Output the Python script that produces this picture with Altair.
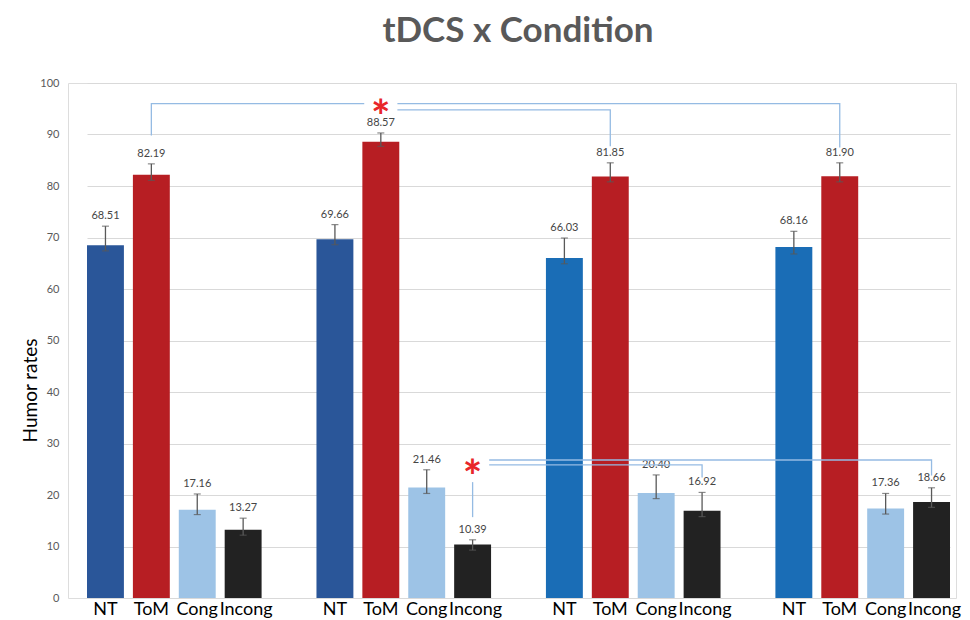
import altair as alt
import pandas as pd

# ---------------- data ----------------
chart_title = "tDCS x Condition"
groups = ["Group 1", "Group 2", "Group 3", "Group 4"]
conditions = ["NT", "ToM", "Cong", "Incong"]

means = {
    "NT":     [68.51, 69.66, 66.03, 68.16],
    "ToM":    [82.19, 88.57, 81.85, 81.90],
    "Cong":   [17.16, 21.46, 20.40, 17.36],
    "Incong": [13.27, 10.39, 16.92, 18.66],
}
err_high = {
    "NT":     [72.2, 72.5, 69.9, 71.2],
    "ToM":    [84.3, 90.3, 84.5, 84.5],
    "Cong":   [20.2, 24.9, 23.9, 20.3],
    "Incong": [15.5, 11.3, 20.5, 21.4],
}
err_low = {
    "NT":     [67.4, 68.6, 64.9, 66.8],
    "ToM":    [81.1, 87.7, 80.8, 80.8],
    "Cong":   [16.2, 20.3, 19.3, 16.3],
    "Incong": [12.2, 9.3, 15.8, 17.6],
}
# NT bars of the first two groups are a darker blue than the last two
nt_shade = ["NT dark", "NT dark", "NT bright", "NT bright"]

# significance brackets (path id, group, condition, value)
br_path = ["A", "A", "A", "A", "B", "B", "B",
           "C", "C", "C", "D", "D", "D", "E", "E"]
br_group = ["Group 1", "Group 1", "Group 4", "Group 4",
            "Group 2", "Group 3", "Group 3",
            "Group 2", "Group 4", "Group 4",
            "Group 2", "Group 3", "Group 3",
            "Group 2", "Group 2"]
br_cond = ["ToM", "ToM", "ToM", "ToM", "ToM", "ToM", "ToM",
           "Incong", "Incong", "Incong", "Incong", "Incong", "Incong",
           "Incong", "Incong"]
br_value = [89.8, 96.0, 96.0, 87.5, 94.8, 94.8, 87.7,
            26.8, 26.8, 23.8, 25.85, 25.85, 23.4, 22.5, 15.7]

star_group = ["Group 2", "Group 2"]
star_cond = ["ToM", "Incong"]
star_value = [95.4, 25.5]

# ---------------- tables ----------------
rows = []
for gi, g in enumerate(groups):
    for c in conditions:
        rows.append({
            "group": g, "cond": c,
            "mean": means[c][gi], "lo": err_low[c][gi], "hi": err_high[c][gi],
            "key": nt_shade[gi] if c == "NT" else c,
            "label": f"{means[c][gi]:.2f}",
        })
df = pd.DataFrame(rows)

br = pd.DataFrame({"path": br_path, "group": br_group, "cond": br_cond,
                   "value": br_value, "step": list(range(len(br_path)))})
stars = pd.DataFrame({"group": star_group, "cond": star_cond, "value": star_value})
title_df = pd.DataFrame({"t": [chart_title]})

# ---------------- scales ----------------
W, H = 888, 515
FONT = "Lato"

x_enc = alt.X("group:N", sort=groups, axis=None,
              scale=alt.Scale(range=[19, 882], paddingInner=0.2391, paddingOuter=0))
xo_enc = alt.XOffset("cond:N", sort=conditions,
                     scale=alt.Scale(paddingInner=0.1957, paddingOuter=0))
y_scale = alt.Scale(domain=[0, 100], nice=False, zero=True)

bars = alt.Chart(df).mark_bar(width={"band": 1}).encode(
    x=x_enc, xOffset=xo_enc,
    y=alt.Y("mean:Q", scale=y_scale, title="Humor rates",
            axis=alt.Axis(values=list(range(0, 101, 10)), grid=True, gridColor="#D9D9D9",
                          gridWidth=1, domain=False, ticks=False, labelPadding=9,
                          labelFont=FONT, labelFontSize=11, labelColor="#595959",
                          titleFont=FONT, titleFontSize=19, titleFontWeight="normal",
                          titleColor="#000000", titleX=-38, titleY=307,
                          titleAlign="center", titleBaseline="middle")),
    color=alt.Color("key:N", legend=None,
                    scale=alt.Scale(domain=["NT dark", "NT bright", "ToM", "Cong", "Incong"],
                                    range=["#2A5699", "#1A6DB6", "#B71E23", "#9DC3E6", "#222222"])),
)

err = alt.Chart(df).mark_rule(color="#595959", strokeWidth=1.3).encode(
    x=x_enc, xOffset=xo_enc, y=alt.Y("lo:Q", scale=y_scale), y2="hi:Q")

caps_hi = alt.Chart(df).mark_tick(color="#595959", size=7, thickness=1.2,
                                  orient="horizontal").encode(
    x=x_enc, xOffset=xo_enc, y=alt.Y("hi:Q", scale=y_scale))
caps_lo = alt.Chart(df).mark_tick(color="#595959", size=7, thickness=1.2,
                                  orient="horizontal").encode(
    x=x_enc, xOffset=xo_enc, y=alt.Y("lo:Q", scale=y_scale))

vals = alt.Chart(df).mark_text(font=FONT, fontSize=11, color="#454545",
                               baseline="middle", dy=-10).encode(
    x=x_enc, xOffset=xo_enc, y=alt.Y("hi:Q", scale=y_scale), text="label:N")


def cat_labels(filter_expr, dx):
    return alt.Chart(df).transform_filter(filter_expr).mark_text(
        font=FONT, fontSize=18, color="#000000", baseline="middle", dy=12, dx=dx
    ).encode(x=x_enc, xOffset=xo_enc, y=alt.value(H), text="cond:N")


xlabels_a = cat_labels("datum.cond == 'NT' || datum.cond == 'ToM'", 0)
xlabels_b = cat_labels("datum.cond == 'Cong'", 0)
xlabels_c = cat_labels("datum.cond == 'Incong'", 3)

lines = alt.Chart(br).mark_line(color="#95BBE3", strokeWidth=1.3).encode(
    x=x_enc, xOffset=xo_enc, y=alt.Y("value:Q", scale=y_scale),
    detail="path:N", order=alt.Order("step:Q"))

boxes = alt.Chart(stars).mark_point(
    shape="M-1,-0.5L1,-0.5L1,0.5L-1,0.5Z", filled=True, fill="white",
    stroke=None, opacity=1, size=1100).encode(
    x=x_enc, xOffset=xo_enc, y=alt.Y("value:Q", scale=y_scale))

star_txt = alt.Chart(stars).mark_text(text="*", font=FONT, fontSize=46,
                                      fontWeight="bold", color="#E8262A",
                                      baseline="middle", dy=12).encode(
    x=x_enc, xOffset=xo_enc, y=alt.Y("value:Q", scale=y_scale))

title_txt = alt.Chart(title_df).mark_text(font=FONT, fontSize=35, fontWeight="bold",
                                          color="#595959", baseline="middle").encode(
    x=alt.value(W / 2 + 6), y=alt.value(-52), text="t:N")

chart = alt.layer(bars, err, caps_hi, caps_lo, vals, xlabels_a, xlabels_b, xlabels_c,
                  lines, boxes, star_txt, title_txt).properties(
    width=W, height=H,
    autosize=alt.AutoSizeParams(type="none"),
    padding={"left": 60, "top": 75, "right": 6, "bottom": 22},
).configure_view(stroke=None).configure(background="white")

chart.save("out.html", embed_options={"renderer": "svg", "actions": False})
